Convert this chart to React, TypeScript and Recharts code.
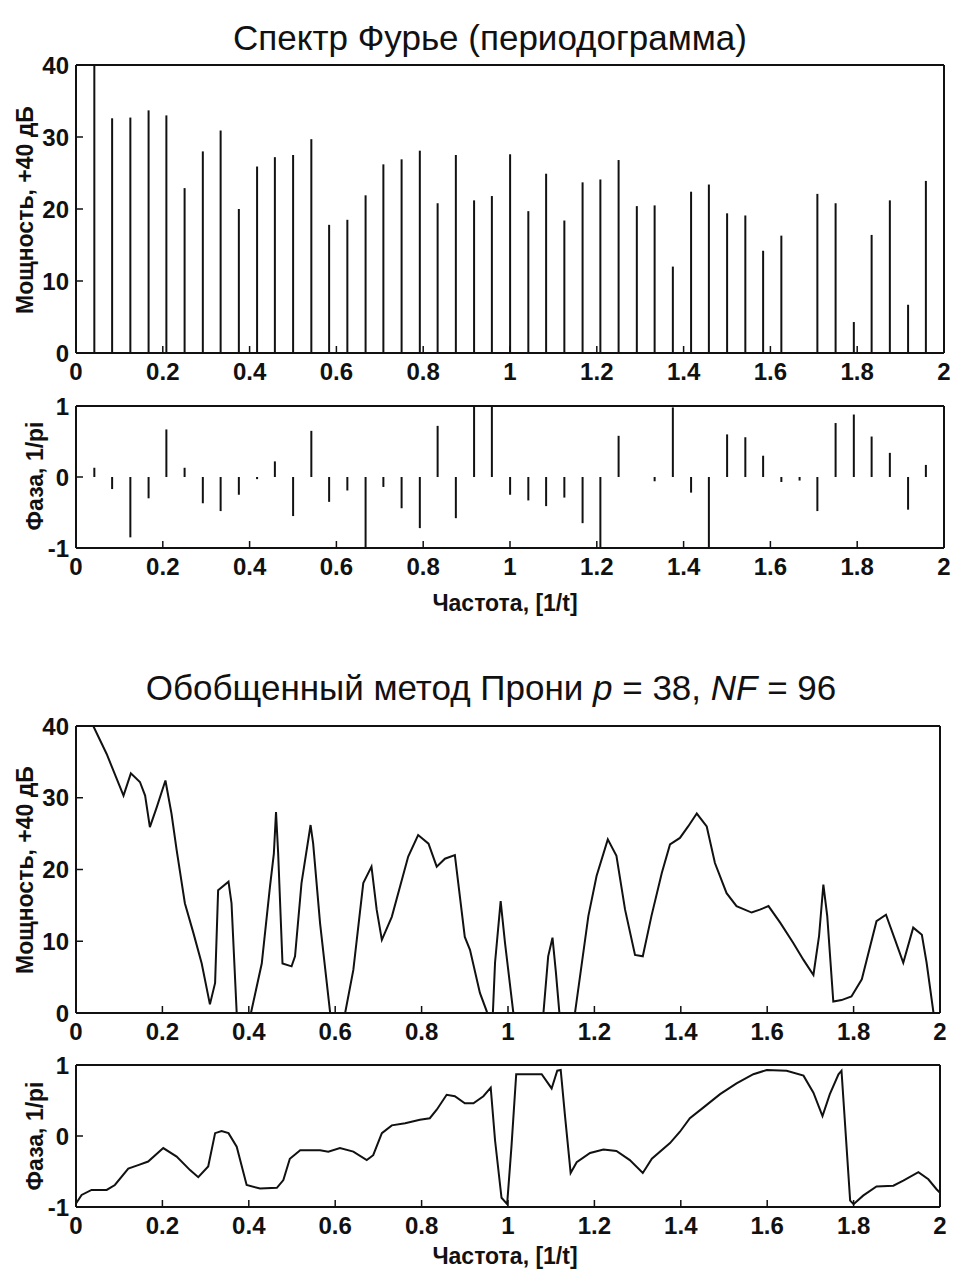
import React from 'react';
import { ComposedChart, LineChart, Bar, Line, XAxis, YAxis } from 'recharts';

// Fourier periodogram: harmonics k/24
const fourierFreq = [
  0.042, 0.083, 0.125, 0.167, 0.208, 0.25, 0.292, 0.333, 0.375, 0.417, 0.458, 0.5,
  0.542, 0.583, 0.625, 0.667, 0.708, 0.75, 0.792, 0.833, 0.875, 0.917, 0.958, 1.0,
  1.042, 1.083, 1.125, 1.167, 1.208, 1.25, 1.292, 1.333, 1.375, 1.417, 1.458, 1.5,
  1.542, 1.583, 1.625, 1.667, 1.708, 1.75, 1.792, 1.833, 1.875, 1.917, 1.958,
];
const fourierPower = [
  40, 32.6, 32.7, 33.7, 33.0, 22.9, 28.0, 30.9, 20.0, 25.9, 27.2, 27.5,
  29.7, 17.8, 18.5, 21.9, 26.2, 26.9, 28.1, 20.8, 27.5, 21.2, 21.8, 27.6,
  19.7, 24.9, 18.4, 23.7, 24.1, 26.8, 20.4, 20.5, 12.0, 22.4, 23.4, 19.4,
  19.1, 14.2, 16.3, 0, 22.1, 20.8, 4.3, 16.4, 21.2, 6.7, 23.9,
];
const fourierPhase = [
  0.13, -0.17, -0.85, -0.3, 0.67, 0.13, -0.37, -0.48, -0.25, -0.03, 0.22, -0.55,
  0.65, -0.35, -0.19, -1.0, -0.14, -0.44, -0.72, 0.72, -0.58, 1.0, 1.0, -0.25,
  -0.33, -0.41, -0.29, -0.65, -1.0, 0.58, 0, -0.06, 0.98, -0.22, -1.0, 0.6,
  0.56, 0.3, -0.07, -0.05, -0.48, 0.76, 0.88, 0.57, 0.34, -0.46, 0.17,
];

// generalized Prony spectrum
const pronyFreq = [
  0, 0.04, 0.071, 0.11, 0.127, 0.148, 0.16, 0.171, 0.187, 0.207, 0.221, 0.233,
  0.252, 0.272, 0.291, 0.31, 0.322, 0.329, 0.353, 0.36, 0.372, 0.38, 0.395, 0.405,
  0.43, 0.449, 0.458, 0.463, 0.468, 0.478, 0.499, 0.507, 0.522, 0.543, 0.549, 0.565,
  0.588, 0.6, 0.615, 0.623, 0.642, 0.665, 0.684, 0.696, 0.708, 0.731, 0.769, 0.792,
  0.816, 0.835, 0.854, 0.877, 0.9, 0.912, 0.935, 0.951, 0.958, 0.965, 0.97, 0.983,
  0.993, 1.012, 1.03, 1.075, 1.082, 1.093, 1.103, 1.111, 1.119, 1.13, 1.145, 1.155,
  1.186, 1.205, 1.231, 1.251, 1.271, 1.294, 1.312, 1.332, 1.356, 1.375, 1.398, 1.417,
  1.437, 1.46, 1.479, 1.506, 1.529, 1.564, 1.583, 1.603, 1.63, 1.66, 1.684, 1.707,
  1.72, 1.73, 1.739, 1.753, 1.772, 1.795, 1.819, 1.853, 1.875, 1.896, 1.915, 1.938,
  1.958, 1.969, 1.985, 2.0,
];
const pronyPower = [
  40, 40, 36.1, 30.3, 33.4, 32.2, 30.3, 25.9, 28.7, 32.4, 27.8, 22.7,
  15.3, 11.1, 6.9, 1.2, 4.2, 17.1, 18.3, 15.3, 0, -5, -5, 0,
  6.9, 17.6, 22.2, 28.0, 22.2, 6.9, 6.5, 7.9, 18.1, 26.2, 23.6, 12.5,
  0.2, -5, -5, 0, 6.0, 18.1, 20.4, 14.4, 10.2, 13.4, 21.8, 24.8,
  23.6, 20.4, 21.5, 22.0, 10.6, 8.8, 2.8, 0.2, -3, 0, 7, 15.6,
  9.8, 0.2, -5, -5, 0, 7.9, 10.5, 5.6, 0, -5, -5, 0,
  13.5, 19.1, 24.2, 21.9, 14.4, 8.1, 7.9, 13.5, 19.5, 23.5, 24.4, 26.0,
  27.8, 26.0, 20.9, 16.7, 14.9, 14.0, 14.4, 14.9, 12.6, 9.8, 7.4, 5.3,
  10.7, 17.9, 13.5, 1.6, 1.8, 2.3, 4.7, 12.8, 13.7, 10.2, 7.0, 11.9,
  10.9, 7.0, 0, -5,
];
const pronyPhaseFreq = [
  0, 0.013, 0.036, 0.071, 0.09, 0.121, 0.144, 0.167, 0.202, 0.233, 0.264, 0.283,
  0.306, 0.322, 0.337, 0.353, 0.372, 0.395, 0.426, 0.465, 0.48, 0.495, 0.519, 0.565,
  0.584, 0.611, 0.642, 0.673, 0.688, 0.708, 0.731, 0.762, 0.796, 0.819, 0.835, 0.858,
  0.877, 0.9, 0.92, 0.943, 0.96, 0.97, 0.985, 0.998, 1.008, 1.019, 1.078, 1.101,
  1.114, 1.122, 1.132, 1.145, 1.159, 1.19, 1.221, 1.251, 1.282, 1.312, 1.333, 1.375,
  1.398, 1.421, 1.452, 1.491, 1.529, 1.568, 1.599, 1.645, 1.684, 1.707, 1.728, 1.745,
  1.765, 1.772, 1.792, 1.8, 1.822, 1.853, 1.892, 1.915, 1.95, 1.973, 1.992, 2.0,
];
const pronyPhase = [
  -0.95, -0.83, -0.76, -0.76, -0.69, -0.46, -0.41, -0.36, -0.17, -0.29, -0.48, -0.58,
  -0.43, 0.04, 0.07, 0.04, -0.15, -0.69, -0.74, -0.73, -0.62, -0.32, -0.2, -0.2,
  -0.22, -0.17, -0.22, -0.34, -0.27, 0.04, 0.15, 0.18, 0.23, 0.25, 0.37, 0.58,
  0.56, 0.46, 0.46, 0.56, 0.68, -0.06, -0.87, -0.96, -0.15, 0.87, 0.87, 0.67,
  0.92, 0.93, 0.28, -0.52, -0.37, -0.24, -0.19, -0.21, -0.34, -0.52, -0.32, -0.1,
  0.06, 0.25, 0.4, 0.59, 0.74, 0.87, 0.93, 0.92, 0.85, 0.61, 0.28, 0.59,
  0.87, 0.92, -0.91, -0.96, -0.84, -0.71, -0.7, -0.63, -0.51, -0.61, -0.75, -0.8,
];

const xTicks = [0, 0.2, 0.4, 0.6, 0.8, 1, 1.2, 1.4, 1.6, 1.8, 2];
const powerTicks = [0, 10, 20, 30, 40];
const phaseTicks = [-1, 0, 1];

const fourierRows = fourierFreq.map((f, i) => ({ f, p: fourierPower[i], ph: fourierPhase[i] }));
const pronyRows = pronyFreq.map((f, i) => ({ f, p: pronyPower[i] }));
const pronyPhaseRows = pronyPhaseFreq.map((f, i) => ({ f, ph: pronyPhase[i] }));

const FONT = '"Liberation Sans", Arial, Helvetica, sans-serif';
const tickFont = { fill: '#111', fontSize: 24, fontWeight: 700, fontFamily: FONT };
const frame = { stroke: '#111', strokeWidth: 2 };
const tickStroke = { stroke: '#111', strokeWidth: 1.5 };

// box frame with inward ticks on all four sides, like matlab
function axes(yDomain: number[], yTicks: number[]) {
  return [
    <XAxis key="xb" dataKey="f" type="number" domain={[0, 2]} ticks={xTicks} interval={0}
      tickSize={-7} tickMargin={17} tick={tickFont} axisLine={frame} tickLine={tickStroke}
      height={30} allowDataOverflow />,
    <XAxis key="xt" xAxisId="t" orientation="top" type="number" domain={[0, 2]} ticks={xTicks}
      interval={0} tick={false} tickSize={-7} axisLine={frame} tickLine={tickStroke} height={1} />,
    <YAxis key="yl" type="number" domain={yDomain} ticks={yTicks} interval={0} tickSize={-7}
      tickMargin={14} width={76} tick={tickFont} axisLine={frame} tickLine={tickStroke} allowDataOverflow />,
    <YAxis key="yr" yAxisId="r" orientation="right" type="number" domain={yDomain} ticks={yTicks}
      interval={0} tick={false} tickSize={-7} axisLine={frame} tickLine={tickStroke} width={1} />,
  ];
}

const abs = (left: number, top: number): React.CSSProperties => ({ position: 'absolute', left, top });

function Title({ x, y, children }: { x: number; y: number; children: React.ReactNode }) {
  return (
    <div style={{ ...abs(x, y), transform: 'translate(-50%, -50%)', whiteSpace: 'nowrap',
      fontFamily: FONT, fontSize: 35, color: '#111' }}>{children}</div>
  );
}

function AxisLabel({ x, y, rotate, children }: { x: number; y: number; rotate?: boolean; children: React.ReactNode }) {
  return (
    <div style={{ ...abs(x, y), transform: `translate(-50%, -50%)${rotate ? ' rotate(-90deg)' : ''}`,
      whiteSpace: 'nowrap', fontFamily: FONT, fontSize: 23, fontWeight: 600, color: '#111' }}>{children}</div>
  );
}

export default function App() {
  return (
    <div style={{ position: 'absolute', left: 0, top: 0, width: 955, height: 1272, background: '#fff' }}>
      <Title x={490} y={38}>Спектр Фурье (периодограмма)</Title>

      <div style={abs(0, 0)}>
        <ComposedChart width={955} height={390} data={fourierRows}
          margin={{ top: 64, right: 10, bottom: 7, left: 0 }}>
          {axes([0, 40], powerTicks)}
          <Bar dataKey="p" fill="#111" barSize={2} isAnimationActive={false} />
        </ComposedChart>
      </div>
      <AxisLabel x={25} y={210} rotate>Мощность, +40 дБ</AxisLabel>

      <div style={abs(0, 390)}>
        <ComposedChart width={955} height={230} data={fourierRows}
          margin={{ top: 15, right: 10, bottom: 42, left: 0 }}>
          {axes([-1, 1], phaseTicks)}
          <Bar dataKey="ph" fill="#111" barSize={2} isAnimationActive={false} />
        </ComposedChart>
      </div>
      <AxisLabel x={35} y={476} rotate>Фаза, 1/pi</AxisLabel>
      <AxisLabel x={505} y={603}>Частота, [1/t]</AxisLabel>

      <Title x={491} y={688}>
        Обобщенный метод Прони <i>p</i> = 38, <i>NF</i> = 96
      </Title>

      <div style={abs(0, 700)}>
        <LineChart width={955} height={350} data={pronyRows}
          margin={{ top: 25, right: 14, bottom: 7, left: 0 }}>
          {axes([0, 40], powerTicks)}
          <Line dataKey="p" type="linear" stroke="#111" strokeWidth={2} dot={false} isAnimationActive={false} />
        </LineChart>
      </div>
      <AxisLabel x={25} y={870} rotate>Мощность, +40 дБ</AxisLabel>

      <div style={abs(0, 1050)}>
        <LineChart width={955} height={222} data={pronyPhaseRows}
          margin={{ top: 14, right: 14, bottom: 35, left: 0 }}>
          {axes([-1, 1], phaseTicks)}
          <Line dataKey="ph" type="linear" stroke="#111" strokeWidth={2} dot={false} isAnimationActive={false} />
        </LineChart>
      </div>
      <AxisLabel x={35} y={1136} rotate>Фаза, 1/pi</AxisLabel>
      <AxisLabel x={505} y={1256}>Частота, [1/t]</AxisLabel>
    </div>
  );
}
